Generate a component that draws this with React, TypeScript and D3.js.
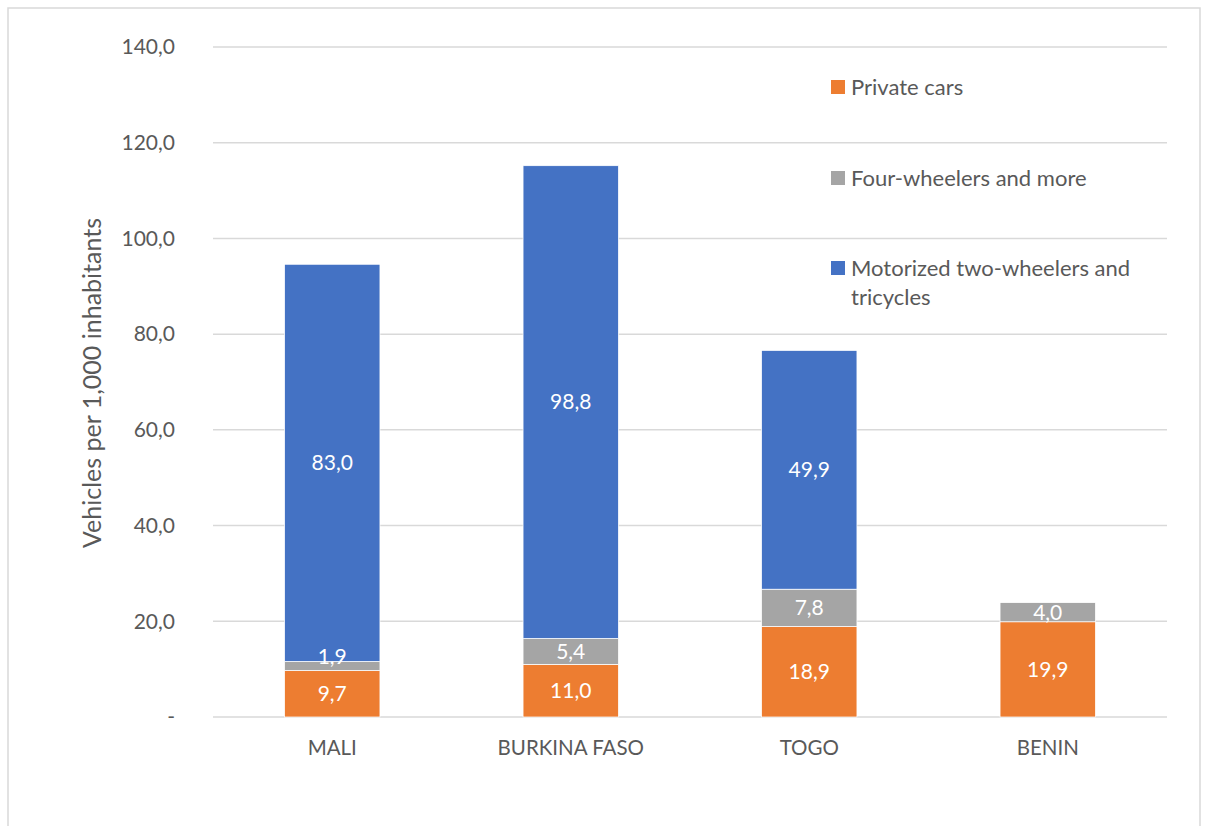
import React, { useEffect, useRef } from "react";
import * as d3 from "d3";

const countries = ["MALI", "BURKINA FASO", "TOGO", "BENIN"];
const privateCars = [9.7, 11.0, 18.9, 19.9];
const fourWheelers = [1.9, 5.4, 7.8, 4.0];
const twoWheelers = [83.0, 98.8, 49.9, 0];
const seriesNames = ["Private cars", "Four-wheelers and more", "Motorized two-wheelers and tricycles"];
const seriesColors = ["#ed7d31", "#a5a5a5", "#4472c4"];
const yTicks = [0, 20, 40, 60, 80, 100, 120, 140];

const FONT = "Lato, 'Open Sans', sans-serif";

export default function App() {
  const ref = useRef<SVGSVGElement>(null);

  useEffect(() => {
    const svg = d3.select(ref.current);
    svg.selectAll("*").remove();

    const left = 213, right = 1167, top = 47, bottom = 717;

    const x = d3.scaleBand().domain(countries).range([left, right]).paddingInner(0.6).paddingOuter(0.3);
    const y = d3.scaleLinear().domain([0, 140]).range([bottom, top]);

    // chart border
    svg.append("rect")
      .attr("x", 8).attr("y", 8).attr("width", 1192).attr("height", 840)
      .attr("fill", "#fff").attr("stroke", "#d9d9d9").attr("stroke-width", 1.5);

    // gridlines + tick labels
    svg.append("g").selectAll("line").data(yTicks).enter().append("line")
      .attr("x1", left).attr("x2", right)
      .attr("y1", (d) => y(d)).attr("y2", (d) => y(d))
      .attr("stroke", "#d9d9d9").attr("stroke-width", 1.5);

    svg.append("g").selectAll("text").data(yTicks).enter().append("text")
      .attr("x", 175).attr("y", (d) => y(d))
      .attr("dy", "0.35em")
      .attr("text-anchor", "end")
      .attr("fill", "#595959").attr("font-family", FONT).attr("font-size", 21)
      .text((d) => (d === 0 ? "-" : d3.format(".1f")(d).replace(".", ",")));

    svg.append("text")
      .attr("transform", "translate(101," + 383 + ") rotate(-90)")
      .attr("text-anchor", "middle")
      .attr("fill", "#595959").attr("font-family", FONT).attr("font-size", 25)
      .text("Vehicles per 1,000 inhabitants");

    // stacked bars
    const rows = countries.map((c, i) => ({
      country: c,
      s0: privateCars[i],
      s1: fourWheelers[i],
      s2: twoWheelers[i],
    }));
    const stack = d3.stack<any>().keys(["s0", "s1", "s2"]);
    const layers = stack(rows);

    const barG = svg.append("g");
    const labelG = svg.append("g");

    layers.forEach((layer, li) => {
      const segs = layer.filter((d) => d[1] - d[0] > 0);
      barG.append("g").selectAll("rect").data(segs).enter().append("rect")
        .attr("x", (d) => x(d.data.country)!)
        .attr("width", x.bandwidth())
        .attr("y", (d) => y(d[1]))
        .attr("height", (d) => y(d[0]) - y(d[1]))
        .attr("fill", seriesColors[li])
        .attr("stroke", "#fff").attr("stroke-width", 0.75);

      labelG.append("g").selectAll("text").data(segs).enter().append("text")
        .attr("x", (d) => x(d.data.country)! + x.bandwidth() / 2)
        .attr("y", (d) => {
          const c = (y(d[0]) + y(d[1])) / 2;
          return y(d[0]) - y(d[1]) < 14 ? c - 9 : c;
        })
        .attr("dy", "0.35em")
        .attr("text-anchor", "middle")
        .attr("fill", "#fff").attr("font-family", FONT).attr("font-size", 21)
        .text((d) => d3.format(".1f")(d[1] - d[0]).replace(".", ","));
    });

    // category labels
    svg.append("g").selectAll("text").data(countries).enter().append("text")
      .attr("x", (d) => x(d)! + x.bandwidth() / 2)
      .attr("y", 748)
      .attr("dy", "0.35em")
      .attr("text-anchor", "middle")
      .attr("fill", "#595959").attr("font-family", FONT).attr("font-size", 20.5)
      .text((d) => d);

    // legend
    const legendY = [87, 178, 268];
    const lg = svg.append("g");
    seriesNames.forEach((name, i) => {
      lg.append("rect")
        .attr("x", 831).attr("y", legendY[i] - 7).attr("width", 14).attr("height", 14)
        .attr("fill", seriesColors[i]);
      const t = lg.append("text")
        .attr("x", 851).attr("y", legendY[i])
        .attr("dy", "0.35em")
        .attr("fill", "#595959").attr("font-family", FONT).attr("font-size", 22);
      if (i === 2) {
        t.append("tspan").attr("x", 851).text("Motorized two-wheelers and");
        t.append("tspan").attr("x", 851).attr("dy", 29).text("tricycles");
      } else {
        t.text(name);
      }
    });
  }, []);

  return (
    <svg
      ref={ref}
      width={1208}
      height={826}
      style={{ position: "absolute", left: 0, top: 0, display: "block" }}
    />
  );
}
